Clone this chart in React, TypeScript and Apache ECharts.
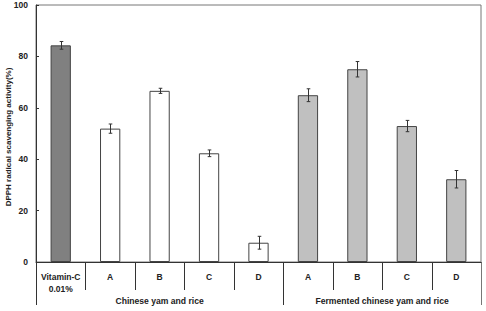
import React, { useEffect, useRef } from "react";
import * as echarts from "echarts";

const categories = ["Vitamin-C\n0.01%", "A", "B", "C", "D", "A", "B", "C", "D"];
const values = [84.3, 51.9, 66.6, 42.3, 7.5, 64.9, 75.0, 52.9, 32.2];
const errors = [1.5, 1.8, 1.0, 1.3, 2.5, 2.5, 3.0, 2.2, 3.4];
const barColors = ["#808080", "#ffffff", "#ffffff", "#ffffff", "#ffffff", "#c0c0c0", "#c0c0c0", "#c0c0c0", "#c0c0c0"];
const groupLabels = ["Chinese yam and rice", "Fermented chinese yam and rice"];
const groupCenters = [2.5, 7];
const groupBounds = [0, 5, 9];
const categoryBounds = [0, 1, 2, 3, 4, 5, 6, 7, 8, 9];
const yTicks = { min: 0, max: 100, interval: 20 };
const yName = "DPPH radical scavenging activity(%)";

const FONT = "Liberation Sans, Arial, sans-serif";

export default function App() {
  const ref = useRef<HTMLDivElement>(null);
  useEffect(() => {
    if (!ref.current) return;
    const chart = echarts.init(ref.current, undefined, { renderer: "svg" });
    chart.setOption({
      animation: false,
      grid: {
        left: 36, right: 5, top: 5, bottom: 49,
        containLabel: false,
        outerBoundsMode: "none",
        show: true, borderColor: "#777", borderWidth: 1, backgroundColor: "transparent",
      },
      xAxis: [
        {
          type: "category",
          data: categories,
          boundaryGap: true,
          axisLine: { show: true, lineStyle: { color: "#333", width: 1 } },
          axisTick: { show: false },
          axisLabel: {
            interval: 0, margin: 9, color: "#222", fontSize: 8.5, fontFamily: FONT, fontWeight: "bold", lineHeight: 12,
          },
          splitLine: { show: false },
        },
        {
          type: "value",
          position: "bottom",
          min: 0,
          max: 9,
          axisLine: { show: false },
          splitLine: { show: false },
          axisTick: { show: false },
          axisLabel: {
            customValues: groupCenters,
            margin: 34,
            color: "#222",
            fontSize: 8.6,
            fontFamily: FONT,
            fontWeight: "bold",
            formatter: (v: number) => {
              const i = groupCenters.indexOf(v);
              return i >= 0 ? groupLabels[i] : "";
            },
          },
        },
      ],
      yAxis: {
        type: "value",
        min: yTicks.min,
        max: yTicks.max,
        interval: yTicks.interval,
        name: yName,
        nameLocation: "middle",
        nameGap: 24,
        nameRotate: 90,
        nameMoveOverlap: false,
        nameTextStyle: { fontSize: 8, fontFamily: FONT, fontWeight: "bold", color: "#222", padding: [0, 7, 0, 0] },
        axisLine: { show: true, lineStyle: { color: "#333" } },
        axisTick: { show: true, inside: true, length: 3, lineStyle: { color: "#333" } },
        axisLabel: { fontSize: 8.5, fontFamily: FONT, fontWeight: "bold", color: "#222", margin: 8 },
        splitLine: { show: false },
      },
      series: [
        {
          type: "bar",
          xAxisIndex: 0,
          barWidth: "41%",
          data: values.map((v, i) => ({
            value: v,
            itemStyle: { color: barColors[i], borderColor: "#444", borderWidth: 1 },
          })),
        },
        {
          type: "custom",
          xAxisIndex: 0,
          data: values.map((v, i) => [i, v - errors[i], v + errors[i]]),
          encode: { x: 0, y: [1, 2] },
          z: 5,
          renderItem: (params: any, api: any) => {
            const x = api.value(0);
            const lo = api.coord([x, api.value(1)]);
            const hi = api.coord([x, api.value(2)]);
            const cx = Math.round(lo[0]) + 0.5;
            const hw = 1.8;
            const style = { stroke: "#333", lineWidth: 1 };
            return {
              type: "group",
              children: [
                { type: "line", shape: { x1: cx, y1: hi[1], x2: cx, y2: lo[1] }, style },
                { type: "line", shape: { x1: cx - hw, y1: hi[1], x2: cx + hw, y2: hi[1] }, style },
                { type: "line", shape: { x1: cx - hw, y1: lo[1], x2: cx + hw, y2: lo[1] }, style },
              ],
            };
          },
        },
      ],
    });

    const y0 = chart.convertToPixel({ yAxisIndex: 0 }, 0) as number;
    const lines: any[] = [];
    categoryBounds.forEach((b) => {
      const isGroup = groupBounds.indexOf(b) >= 0;
      const px = Math.round(chart.convertToPixel({ xAxisIndex: 1 }, b) as number) + 0.5;
      lines.push({
        type: "line",
        shape: { x1: px, y1: y0, x2: px, y2: y0 + (isGroup ? 43 : 28) },
        style: { stroke: b === 9 ? "#777" : "#333", lineWidth: 1 },
        silent: true,
      });
    });
    chart.setOption({ graphic: lines });

    return () => chart.dispose();
  }, []);
  return (
    <div
      ref={ref}
      style={{ position: "fixed", left: 0, top: 0, width: 486, height: 311, background: "#fff" }}
    />
  );
}
